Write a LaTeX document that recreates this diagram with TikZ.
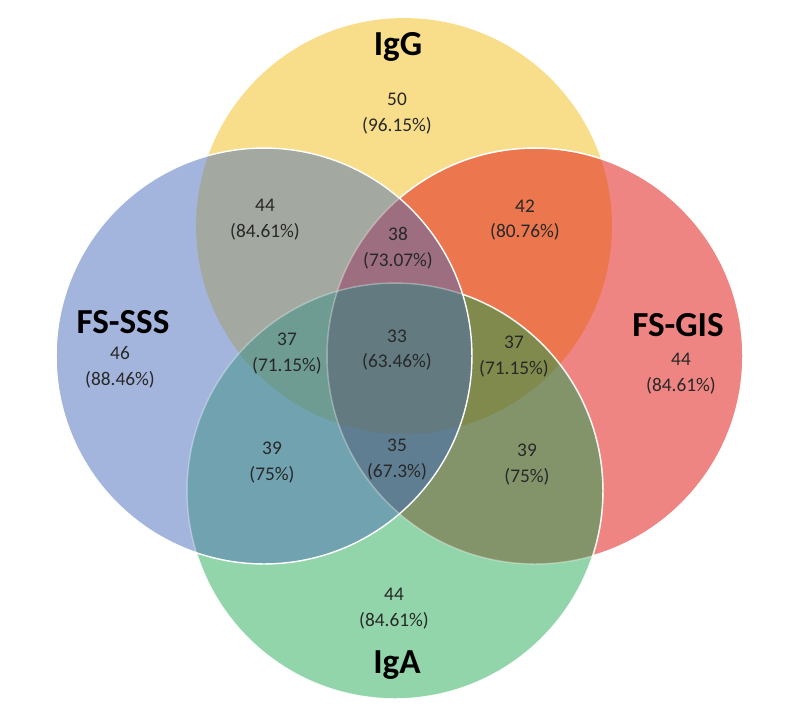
\documentclass[tikz,border=0pt]{standalone}
\usepackage{fontspec}
\setmainfont{Carlito}
\definecolor{iggyellow}{RGB}{248,222,138}
\definecolor{sssblue}{RGB}{163,181,220}
\definecolor{gisred}{RGB}{238,133,130}
\definecolor{igagreen}{RGB}{147,213,171}
\definecolor{iggsss}{RGB}{163,169,160}
\definecolor{igggis}{RGB}{236,119,78}
\definecolor{sssiga}{RGB}{112,162,176}
\definecolor{gisiga}{RGB}{132,148,106}
\definecolor{iggsssgis}{RGB}{156,110,128}
\definecolor{iggsssiga}{RGB}{110,156,146}
\definecolor{igggisiga}{RGB}{128,138,76}
\definecolor{sssgisiga}{RGB}{96,126,146}
\definecolor{allfour}{RGB}{98,122,128}
\definecolor{numtext}{RGB}{40,40,40}
\tikzstyle{setname} = [font=\fontsize{20}{24}\selectfont\bfseries, anchor=base, inner sep=0pt]
\tikzstyle{count} = [font=\fontsize{11}{14.7}\selectfont, text=numtext, align=center, inner sep=0pt]
\tikzstyle{rim} = [draw=white, line width=0.8pt]
\tikzstyle{rimfaint} = [draw=white, line width=0.8pt, draw opacity=0.35]
\newcommand{\vennr}{4.16cm}

\begin{document}
\begin{tikzpicture}[x=0.02cm, y=-0.02cm]
	\useasboundingbox (0,0) rectangle (800,721);
	\coordinate (igg) at (404,226);
	\coordinate (sss) at (264,356);
	\coordinate (gis) at (535,356);
	\coordinate (iga) at (395,491);
	
	% one set
	\fill[iggyellow] (igg) circle [radius=\vennr];
	\fill[gisred] (gis) circle [radius=\vennr];
	\fill[igagreen] (iga) circle [radius=\vennr];
	\fill[sssblue] (sss) circle [radius=\vennr];
	% two sets
	\begin{scope}
		\clip (igg) circle [radius=\vennr];
		\fill[iggsss] (sss) circle [radius=\vennr];
		\fill[igggis] (gis) circle [radius=\vennr];
	\end{scope}
	\begin{scope}
		\clip (iga) circle [radius=\vennr];
		\fill[sssiga] (sss) circle [radius=\vennr];
		\fill[gisiga] (gis) circle [radius=\vennr];
	\end{scope}
	% three and four sets
	\begin{scope}
		\clip (igg) circle [radius=\vennr];
		\clip (sss) circle [radius=\vennr];
		\fill[iggsssgis] (gis) circle [radius=\vennr];
		\fill[iggsssiga] (iga) circle [radius=\vennr];
	\end{scope}
	\begin{scope}
		\clip (igg) circle [radius=\vennr];
		\clip (gis) circle [radius=\vennr];
		\fill[igggisiga] (iga) circle [radius=\vennr];
	\end{scope}
	\begin{scope}
		\clip (sss) circle [radius=\vennr];
		\clip (gis) circle [radius=\vennr];
		\fill[sssgisiga] (iga) circle [radius=\vennr];
		\clip (iga) circle [radius=\vennr];
		\fill[allfour] (igg) circle [radius=\vennr];
	\end{scope}
	
	% rims
	\draw[rimfaint] (gis) circle [radius=\vennr];
	\draw[rimfaint] (iga) circle [radius=\vennr];
	\begin{scope}[even odd rule]
		\clip (0,0) rectangle (800,721) (sss) circle [radius=\vennr];
		\draw[rim, draw opacity=0.9] (iga) circle [radius=\vennr];
		\clip (0,0) rectangle (800,721) (iga) circle [radius=\vennr];
		\draw[rim] (gis) circle [radius=\vennr];
	\end{scope}
	\draw[rim] (sss) circle [radius=\vennr];
	
	\node[setname] (igg-name) at (398,55) {IgG};
	\node[setname] (sss-name) at (123,333) {FS-SSS};
	\node[setname] (gis-name) at (678,336) {FS-GIS};
	\node[setname] (iga-name) at (397,673) {IgA};
	
	\node[count] (igg-only) at (397,113.5) {50\\(96.15\%)};
	\node[count] (sss-only) at (120,367.5) {46\\(88.46\%)};
	\node[count] (gis-only) at (681,374) {44\\(84.61\%)};
	\node[count] (iga-only) at (394,609) {44\\(84.61\%)};
	\node[count] (igg-sss) at (265,220) {44\\(84.61\%)};
	\node[count] (igg-gis) at (525,220) {42\\(80.76\%)};
	\node[count] (sss-iga) at (272,462.5) {39\\(75\%)};
	\node[count] (gis-iga) at (527,464.5) {39\\(75\%)};
	\node[count] (igg-sss-gis) at (398,248.5) {38\\(73.07\%)};
	\node[count] (igg-sss-iga) at (287,353.5) {37\\(71.15\%)};
	\node[count] (igg-gis-iga) at (514,356.5) {37\\(71.15\%)};
	\node[count] (sss-gis-iga) at (397,459.5) {35\\(67.3\%)};
	\node[count] (all-sets) at (397,350) {33\\(63.46\%)};
\end{tikzpicture}
\end{document}
